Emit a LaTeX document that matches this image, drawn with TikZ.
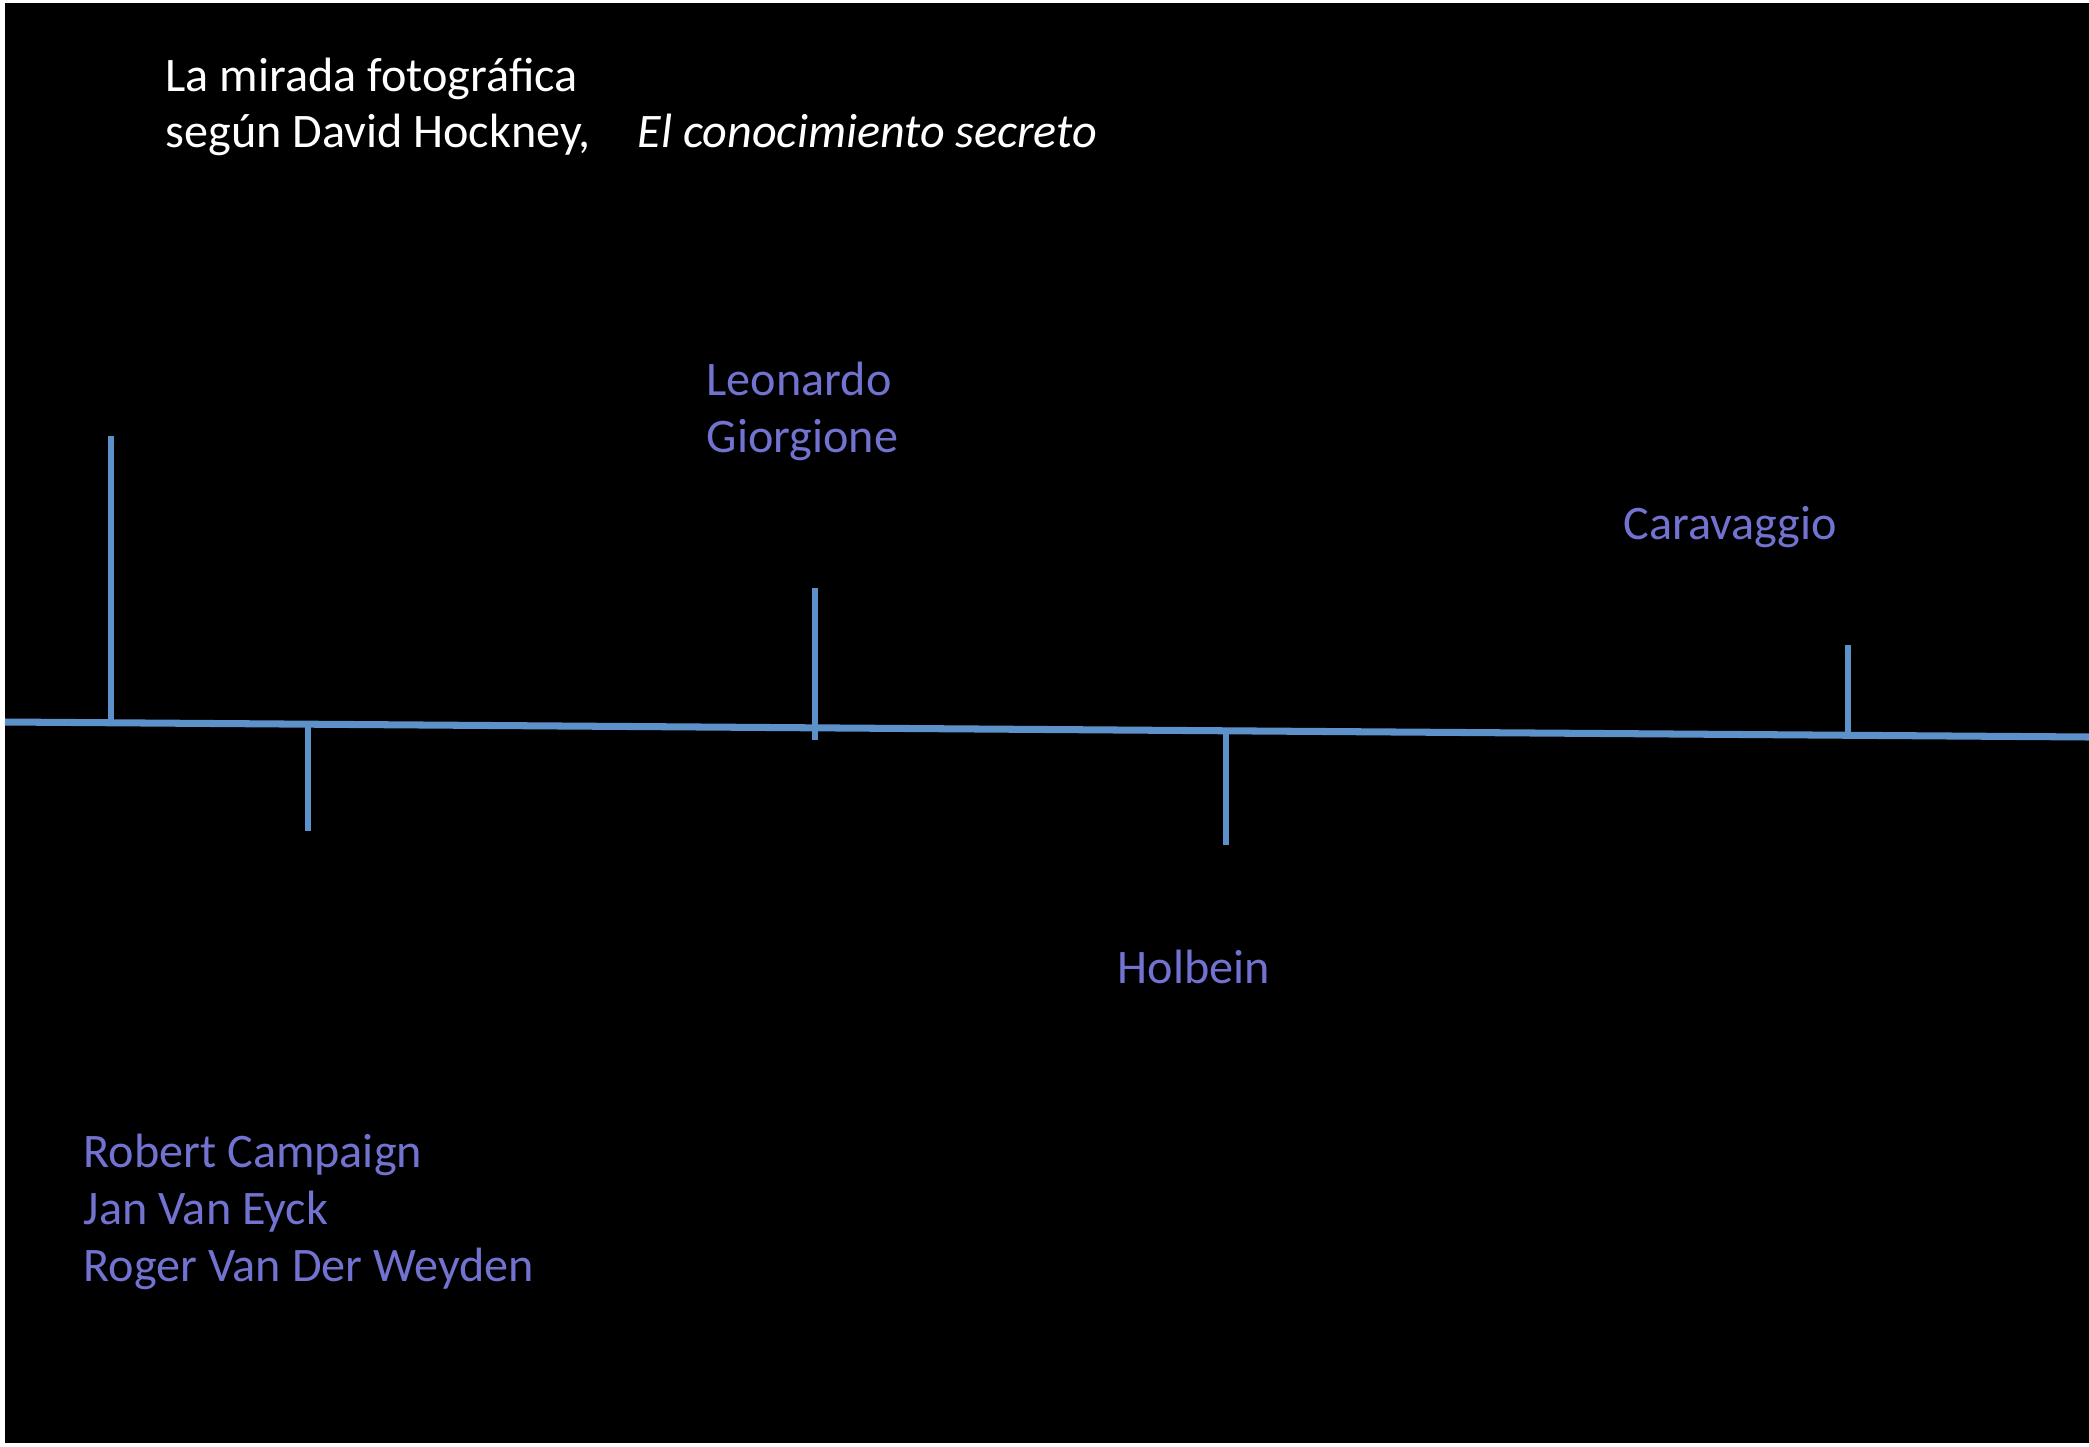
\documentclass[tikz,border=0pt]{standalone}
\usepackage{fontspec}
\setmainfont{Carlito}
\definecolor{lineblue}{RGB}{92,145,201}
\definecolor{namecol}{RGB}{114,114,208}
\begin{document}
\begin{tikzpicture}[x=0.01cm, y=-0.01cm,
    title/.style={anchor=base west, inner sep=0pt, text=white, font=\fontsize{13.7}{16.2}\selectfont},
    painter/.style={anchor=base west, inner sep=0pt, text=namecol, align=left, font=\fontsize{13.7}{16.2}\selectfont},
    axis/.style={draw=lineblue, line width=2pt},
    tick/.style={draw=lineblue, line width=1.7pt}]
    \fill[white] (0,0) rectangle (2089,1446);
    \fill[black] (5,3) rectangle (2089,1443);
    \useasboundingbox (0,0) rectangle (2089,1446);
    % title
    \node[title] (t1) at (165,92) {La mirada fotográfica};
    \node[title] (t2) at (165,148) {según David Hockney,};
    \node[title] (t3) at (637,148) {\itshape El conocimiento secreto};
    % the time line
    \coordinate (w) at (5,722);
    \coordinate (e) at (2089,737);
    \draw[axis] (w) -- (e);
    \coordinate (a1) at (111,436);  \coordinate (a2) at (111,723);
    \coordinate (b1) at (308,725);  \coordinate (b2) at (308,831);
    \coordinate (c1) at (815,588);  \coordinate (c2) at (815,740);
    \coordinate (d1) at (1226,731); \coordinate (d2) at (1226,845);
    \coordinate (f1) at (1848,645); \coordinate (f2) at (1848,735);
    \draw[tick] (a1) -- (a2);
    \draw[tick] (b1) -- (b2);
    \draw[tick] (c1) -- (c2);
    \draw[tick] (d1) -- (d2);
    \draw[tick] (f1) -- (f2);
    % painters (base = last line)
    \node[painter] (flem) at (83,1281) {Robert Campaign\\Jan Van Eyck\\Roger Van Der Weyden};
    \node[painter] (leo) at (706,452) {Leonardo\\Giorgione};
    \node[painter] (hol) at (1117,983) {Holbein};
    \node[painter] (car) at (1623,539) {Caravaggio};
\end{tikzpicture}
\end{document}
